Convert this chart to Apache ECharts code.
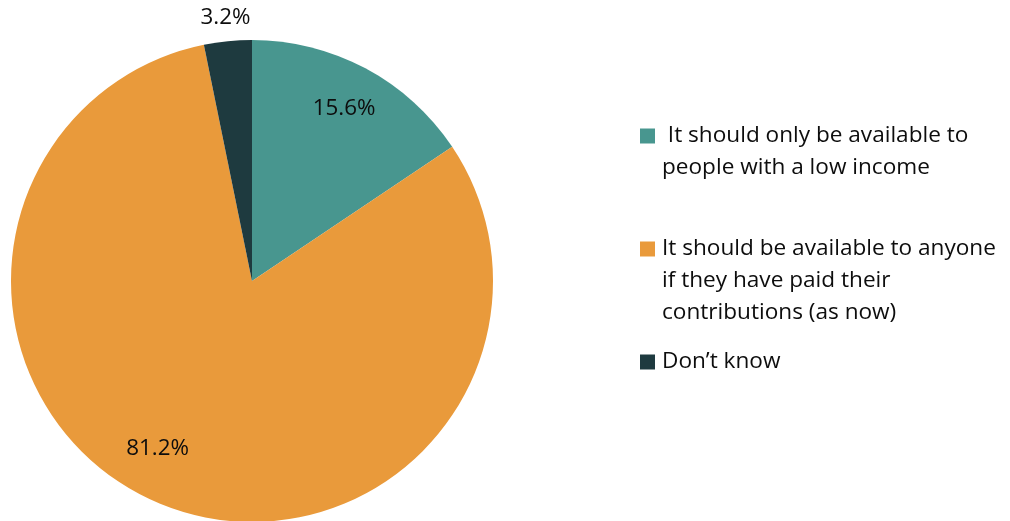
<!DOCTYPE html>
<html>
<head>
<meta charset="utf-8">
<script src="https://cdn.jsdelivr.net/npm/echarts@6/dist/echarts.min.js"></script>
<style>
  html, body { margin: 0; padding: 0; background: #ffffff; }
  #chart { width: 1010px; height: 521px; }
</style>
</head>
<body>
<div id="chart"></div>
<script>
// Survey answers and their shares (%)
const categories = [
  ' It should only be available to\npeople with a low income',
  'It should be available to anyone\nif they have paid their\ncontributions (as now)',
  'Don\u2019t know'
];
const shares = [15.6, 81.2, 3.2];
const colors = ['#48968f', '#e99a3b', '#1e3a3f'];

const FONT = '"Open Sans", Lato, sans-serif';
const LINE = 32;

const CX = 252, CY = 281, R = 241;

const pieData = categories.map((name, i) => ({
  name, value: shares[i], itemStyle: { color: colors[i] }
}));

// one legend block per answer, so each sits at its own height;
// blank lines above the name keep the marker level with its first line
const legendTops = [88, 169, 346];
const legends = categories.map((name, i) => {
  const lines = name.split('\n').length;
  return {
    data: [name],
    orient: 'vertical',
    left: 640,
    top: legendTops[i],
    padding: 0,
    itemWidth: 15,
    itemHeight: 15,
    icon: 'rect',
    selectedMode: false,
    formatter: n => '\n'.repeat(lines - 1) + n,
    textStyle: {
      fontFamily: FONT, fontSize: 22.6, color: '#0d0d0d',
      lineHeight: LINE, padding: [0, 0, 0, 2]
    }
  };
});

const labelText = p => p.value.toFixed(1) + '%';
const labelStyle = { fontFamily: FONT, fontSize: 22.4, color: '#0d0d0d' };

const option = {
  backgroundColor: '#ffffff',
  animation: false,
  legend: legends,
  series: [
    {
      // the pie itself
      type: 'pie',
      center: [CX, CY],
      radius: [0, R],
      startAngle: 90,
      clockwise: true,
      silent: true,
      label: { show: false },
      labelLine: { show: false },
      itemStyle: { borderWidth: 0 },
      data: pieData
    },
    {
      // value labels placed well inside the two larger slices
      type: 'pie',
      center: [CX, CY],
      radius: [R * 0.6, R],
      startAngle: 90,
      clockwise: true,
      silent: true,
      legendHoverLink: false,
      labelLine: { show: false },
      label: { show: true, position: 'inside', formatter: labelText, ...labelStyle },
      data: categories.map((name, i) => ({
        name, value: shares[i],
        itemStyle: { color: 'rgba(0,0,0,0)' },
        label: i === 2 ? { show: false } : (i === 1 ? { offset: [-20, -14] } : {})
      }))
    },
    {
      // value label just outside the thin slice
      type: 'pie',
      center: [CX, CY],
      radius: [R, R * 1.17],
      startAngle: 90,
      clockwise: true,
      silent: true,
      legendHoverLink: false,
      labelLine: { show: false },
      label: { show: true, position: 'inside', formatter: labelText, ...labelStyle },
      data: categories.map((name, i) => ({
        name, value: shares[i],
        itemStyle: { color: 'rgba(0,0,0,0)' },
        label: { show: i === 2 }
      }))
    }
  ]
};

const chart = echarts.init(document.getElementById('chart'), null, { renderer: 'canvas' });
chart.setOption(option);
</script>
</body>
</html>
